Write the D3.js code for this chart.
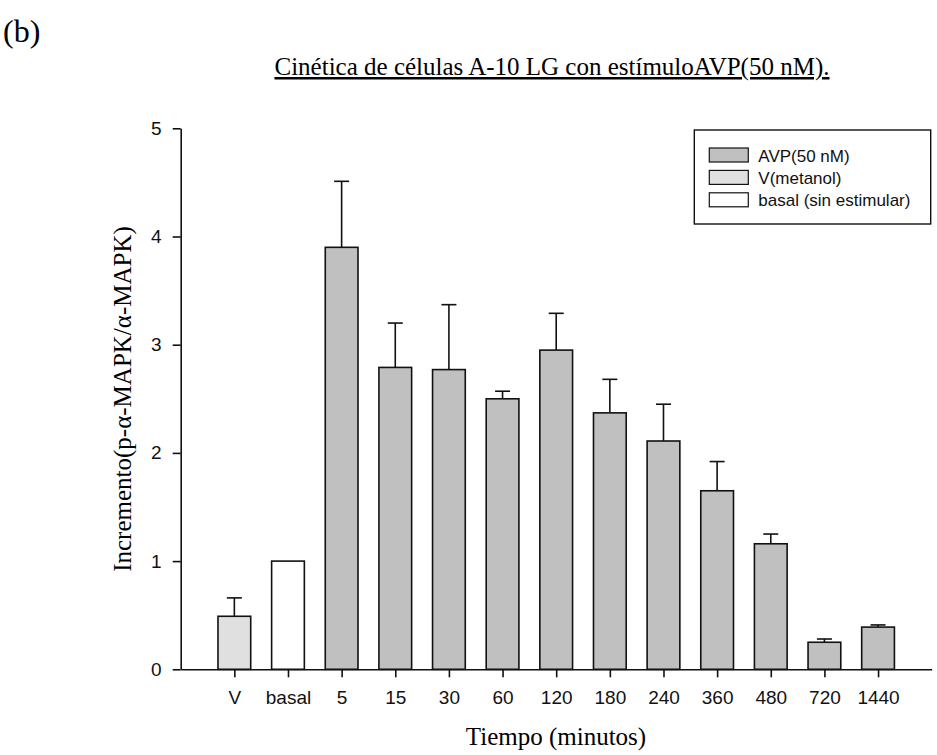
<!DOCTYPE html>
<html>
<head>
<meta charset="utf-8">
<script src="https://cdn.jsdelivr.net/npm/d3@7"></script>
<style>
  body { margin: 0; background: #fff; }
  svg { display: block; }
</style>
</head>
<body>
<svg id="chart" width="937" height="755"></svg>
<script>
// categories on the x axis
var categories = ["V", "basal", "5", "15", "30", "60", "120", "180", "240", "360", "480", "720", "1440"];
// group of each bar (drives the fill)
var groups = ["V", "basal", "AVP", "AVP", "AVP", "AVP", "AVP", "AVP", "AVP", "AVP", "AVP", "AVP", "AVP"];
// mean values
var means = [0.49, 1.0, 3.90, 2.79, 2.77, 2.50, 2.95, 2.37, 2.11, 1.65, 1.16, 0.25, 0.39];
// upper error (SEM)
var errors = [0.17, 0, 0.61, 0.41, 0.60, 0.07, 0.34, 0.31, 0.34, 0.27, 0.09, 0.03, 0.02];
var yTicks = [0, 1, 2, 3, 4, 5];

var legendLabels = ["AVP(50 nM)", "V(metanol)", "basal (sin estimular)"];
var legendKeys = ["AVP", "V", "basal"];

var fills = { AVP: "#c0c0c0", V: "#e0e0e0", basal: "#ffffff" };

var svg = d3.select("#chart");

// x uses the category index, the axis runs one step before the first bar
var x = d3.scaleLinear()
          .domain([-1, 13])
          .range([180.7, 931.7]);
var step = x(1) - x(0);
var barW = step * 0.61;

var y = d3.scaleLinear()
          .domain([0, 5])
          .range([669.3, 128.3]);

var idx = d3.range(categories.length);
var withErr = idx.filter(function(i) { return errors[i] > 0; });

// error bars (upper only), drawn under the bars
var err = svg.append("g")
    .attr("stroke", "#111")
    .attr("stroke-width", 1.6);
err.selectAll("line.v")
    .data(withErr)
    .enter()
    .append("line")
    .attr("class", "v")
    .attr("x1", function(i) { return x(i); })
    .attr("x2", function(i) { return x(i); })
    .attr("y1", function(i) { return y(means[i]); })
    .attr("y2", function(i) { return y(means[i] + errors[i]); });
err.selectAll("line.c")
    .data(withErr)
    .enter()
    .append("line")
    .attr("class", "c")
    .attr("x1", function(i) { return x(i) - 7.5; })
    .attr("x2", function(i) { return x(i) + 7.5; })
    .attr("y1", function(i) { return y(means[i] + errors[i]); })
    .attr("y2", function(i) { return y(means[i] + errors[i]); });

// bars
svg.append("g")
    .selectAll("rect")
    .data(idx)
    .enter()
    .append("rect")
    .attr("x", function(i) { return x(i) - barW / 2; })
    .attr("y", function(i) { return y(means[i]); })
    .attr("width", barW)
    .attr("height", function(i) { return y(0) - y(means[i]); })
    .attr("fill", function(i) { return fills[groups[i]]; })
    .attr("stroke", "#111")
    .attr("stroke-width", 1.6);

// axes
var xAxis = d3.axisBottom(x)
              .tickValues(idx)
              .tickFormat(function(i) { return categories[i]; })
              .tickSizeInner(8)
              .tickSizeOuter(0)
              .tickPadding(13);
var gx = svg.append("g")
    .attr("transform", "translate(0," + y(0) + ")")
    .call(xAxis);

var yAxis = d3.axisLeft(y)
              .tickValues(yTicks)
              .tickFormat(d3.format("d"))
              .tickSizeInner(8)
              .tickSizeOuter(0)
              .tickPadding(11);
var gy = svg.append("g")
    .attr("transform", "translate(" + x(-1) + ",0)")
    .call(yAxis);

[gx, gy].forEach(function(g) {
    g.select(".domain").attr("stroke", "#111").attr("stroke-width", 1.6);
    g.selectAll(".tick line").attr("stroke", "#111").attr("stroke-width", 1.6);
    g.selectAll(".tick text")
        .attr("fill", "#111")
        .style("font-family", "'Liberation Sans', Arial, sans-serif")
        .style("font-size", "19px");
});

// labels
svg.append("text")
    .attr("x", 3)
    .attr("y", 42)
    .style("font-family", "'Liberation Serif', 'Times New Roman', serif")
    .style("font-size", "32px")
    .text("(b)");

svg.append("text")
    .attr("x", 552)
    .attr("y", 75)
    .attr("text-anchor", "middle")
    .style("font-family", "'Liberation Serif', 'Times New Roman', serif")
    .style("font-size", "25px")
    .style("text-decoration", "underline")
    .text("Cinética de células A-10 LG con estímuloAVP(50 nM).");

svg.append("text")
    .attr("x", 556)
    .attr("y", 745)
    .attr("text-anchor", "middle")
    .style("font-family", "'Liberation Serif', 'Times New Roman', serif")
    .style("font-size", "25px")
    .text("Tiempo (minutos)");

svg.append("text")
    .attr("transform", "translate(131,399) rotate(-90)")
    .attr("text-anchor", "middle")
    .style("font-family", "'Liberation Serif', 'Times New Roman', serif")
    .style("font-size", "25px")
    .text("Incremento(p-α-MAPK/α-MAPK)");

// legend
var legend = svg.append("g");
legend.append("rect")
    .attr("x", 694.3)
    .attr("y", 130)
    .attr("width", 236.4)
    .attr("height", 94)
    .attr("fill", "#fff")
    .attr("stroke", "#111")
    .attr("stroke-width", 1.4);

var items = legend.selectAll("g.item")
    .data(legendLabels)
    .enter()
    .append("g")
    .attr("class", "item")
    .attr("transform", function(d, i) { return "translate(709.3," + (148 + i * 22.4) + ")"; });
items.append("rect")
    .attr("width", 39)
    .attr("height", 14)
    .attr("fill", function(d, i) { return fills[legendKeys[i]]; })
    .attr("stroke", "#111")
    .attr("stroke-width", 1.2);
items.append("text")
    .attr("x", 49)
    .attr("y", 13.5)
    .style("font-family", "'Liberation Sans', Arial, sans-serif")
    .style("font-size", "17px")
    .attr("fill", "#111")
    .text(function(d) { return d; });
</script>
</body>
</html>
